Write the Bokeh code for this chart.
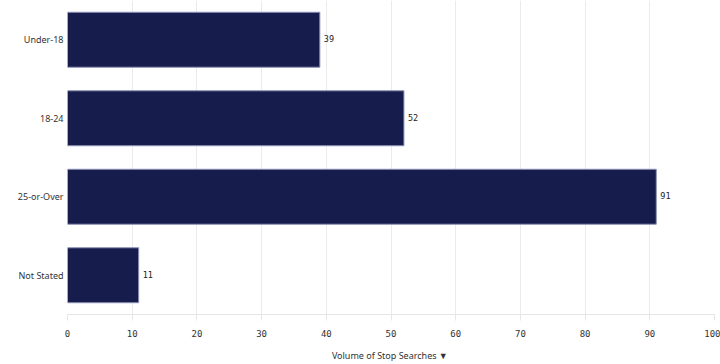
from bokeh.plotting import figure
from bokeh.models import ColumnDataSource, FactorRange, Range1d, FixedTicker
from bokeh.core.properties import value
from bokeh.embed import file_html
from bokeh.resources import INLINE

# Stop searches by age group
age_groups = ["Under-18", "18-24", "25-or-Over", "Not Stated"]
searches = [39, 52, 91, 11]
x_ticks = [0, 10, 20, 30, 40, 50, 60, 70, 80, 90, 100]

source = ColumnDataSource(data=dict(
    group=age_groups,
    count=searches,
    label=[str(v) for v in searches],
))

p = figure(
    width=720, height=364,
    y_range=FactorRange(factors=list(reversed(age_groups))),
    x_range=Range1d(0, 100),
    output_backend="svg", toolbar_location=None,
    min_border_left=67, min_border_right=6, min_border_top=0, min_border_bottom=50,
)
p.outline_line_color = None

p.hbar(y="group", right="count", left=0, height=0.7, source=source,
       fill_color="#161d4c", line_color="#8c91b4", line_width=1)

p.text(x="count", y="group", text="label", source=source,
       x_offset=4, y_offset=-1, text_baseline="middle", text_align="left",
       text_font=value("DejaVu Sans Mono"), text_font_size="8.5px",
       text_color="#222222")

# grid
p.ygrid.grid_line_color = None
p.xgrid.grid_line_color = "#ebebeb"
p.xgrid.ticker = FixedTicker(ticks=x_ticks)

# x axis
xa = p.xaxis[0]
xa.ticker = FixedTicker(ticks=x_ticks)
xa.axis_line_color = "#e6e6e6"
xa.major_tick_line_color = "#e6e6e6"
xa.major_tick_out = 6
xa.major_tick_in = 0
xa.minor_tick_line_color = None
xa.major_label_text_font = "DejaVu Sans Mono"
xa.major_label_text_font_size = "9px"
xa.major_label_text_color = "#333333"
xa.major_label_standoff = 9
xa.axis_label = "Volume of Stop Searches  \u25bc"
xa.axis_label_text_font = "Noto Sans"
xa.axis_label_text_font_style = "normal"
xa.axis_label_text_font_size = "9px"
xa.axis_label_text_color = "#333333"
xa.axis_label_standoff = 9

# y axis
ya = p.yaxis[0]
ya.axis_line_color = None
ya.major_tick_line_color = None
ya.minor_tick_line_color = None
ya.major_label_text_font = "Noto Sans"
ya.major_label_text_font_size = "9px"
ya.major_label_text_color = "#333333"
ya.major_label_standoff = -2

open("out.html", "w").write(file_html(p, INLINE))
